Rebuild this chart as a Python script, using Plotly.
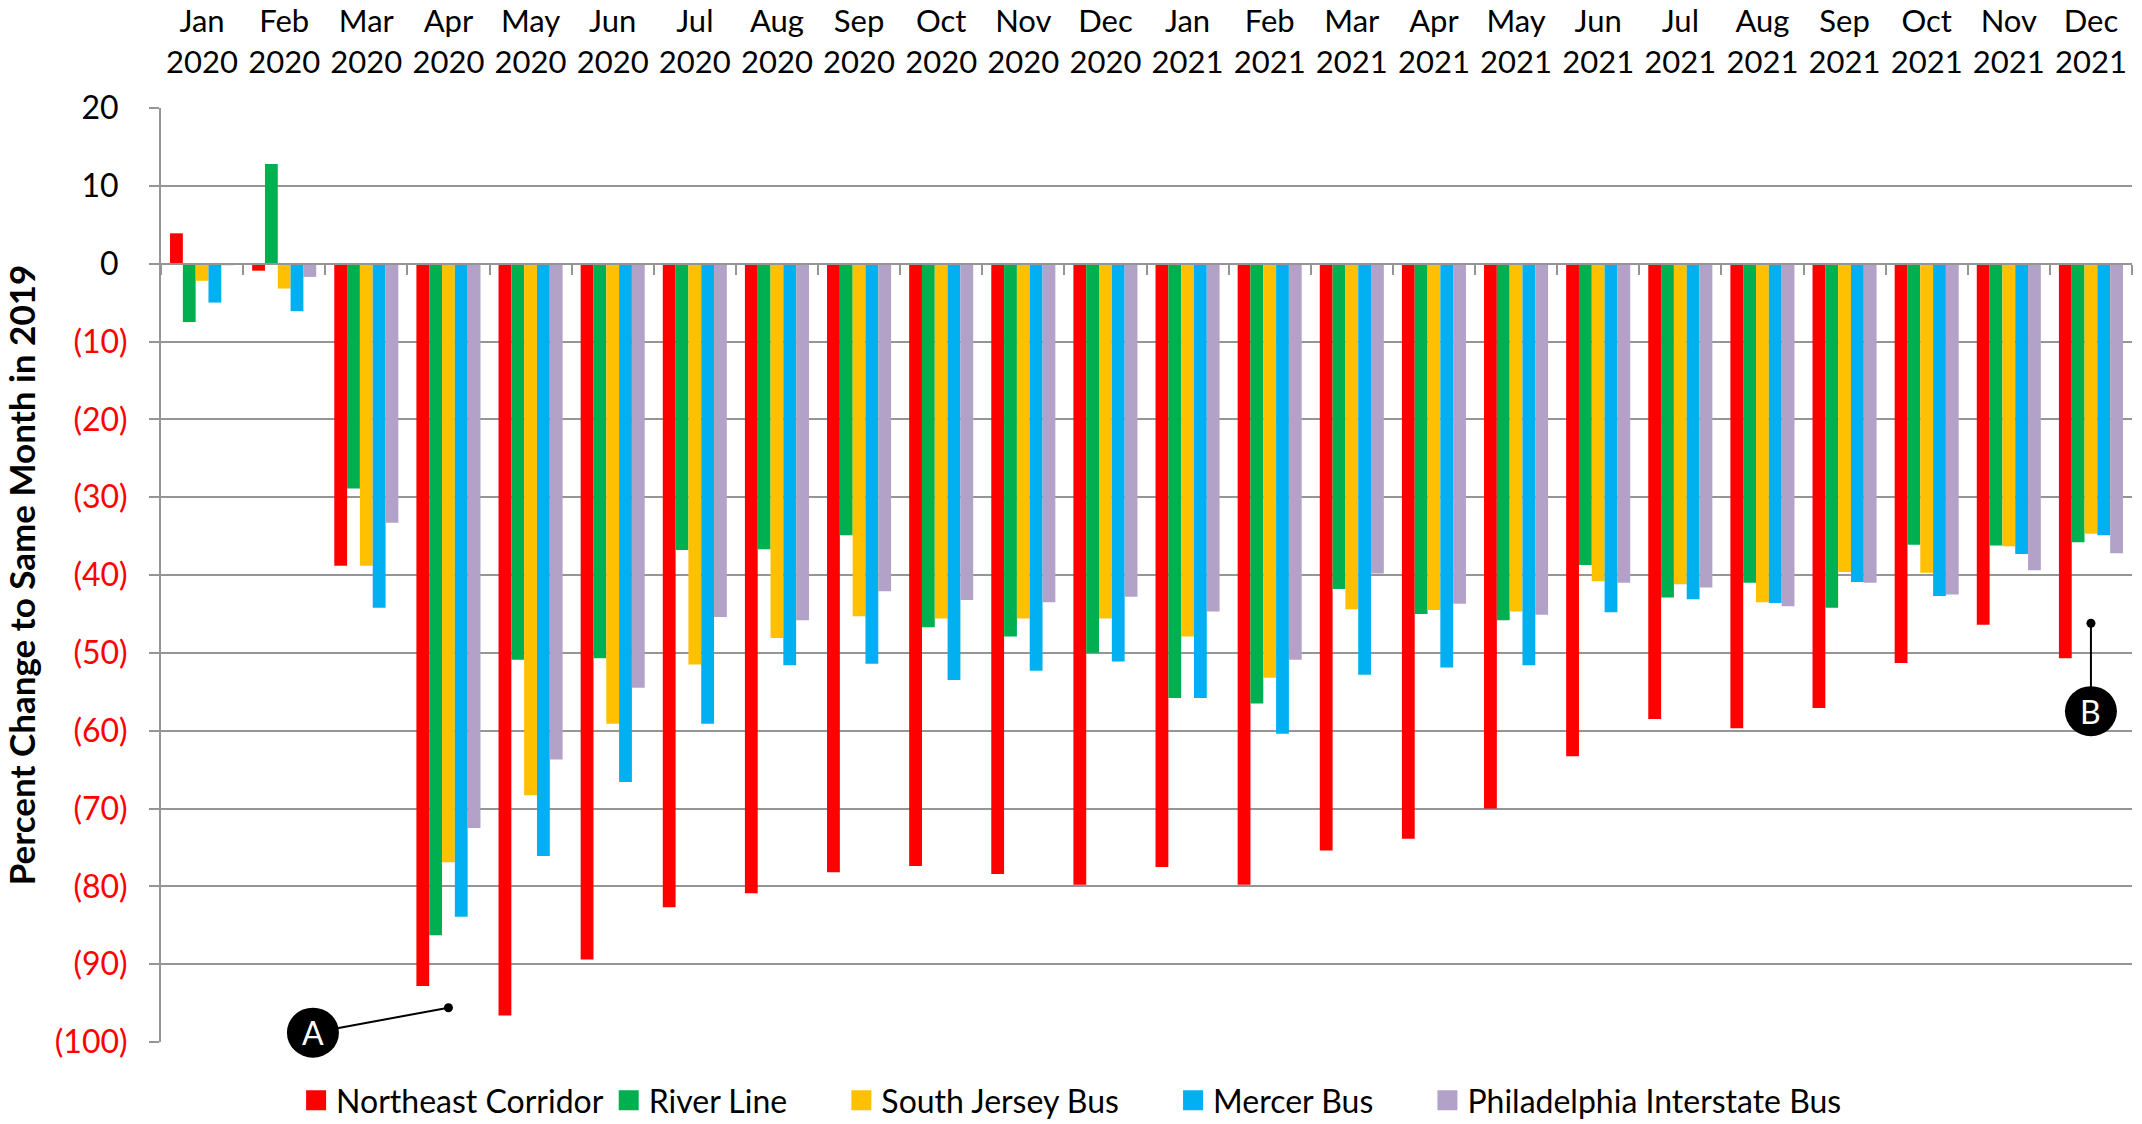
import plotly.graph_objects as go

# ---------------- data ----------------
categories = [
    "Jan<br>2020", "Feb<br>2020", "Mar<br>2020", "Apr<br>2020", "May<br>2020", "Jun<br>2020",
    "Jul<br>2020", "Aug<br>2020", "Sep<br>2020", "Oct<br>2020", "Nov<br>2020", "Dec<br>2020",
    "Jan<br>2021", "Feb<br>2021", "Mar<br>2021", "Apr<br>2021", "May<br>2021", "Jun<br>2021",
    "Jul<br>2021", "Aug<br>2021", "Sep<br>2021", "Oct<br>2021", "Nov<br>2021", "Dec<br>2021",
]

northeast_corridor = [3.9, -0.9, -38.8, -92.8, -96.6, -89.4, -82.7, -80.9, -78.2, -77.4, -78.4, -79.8,
                      -77.5, -79.8, -75.4, -73.9, -70.0, -63.3, -58.5, -59.7, -57.1, -51.3, -46.4, -50.7]
river_line = [-7.5, 12.8, -28.9, -86.3, -50.9, -50.7, -36.8, -36.7, -34.9, -46.7, -47.9, -50.0,
              -55.8, -56.5, -41.8, -45.0, -45.8, -38.7, -42.9, -41.0, -44.2, -36.1, -36.2, -35.8]
south_jersey_bus = [-2.2, -3.2, -38.8, -76.9, -68.3, -59.1, -51.5, -48.1, -45.3, -45.6, -45.6, -45.6,
                    -47.9, -53.2, -44.4, -44.5, -44.7, -40.8, -41.2, -43.5, -39.6, -39.7, -36.3, -34.7]
mercer_bus = [-5.0, -6.1, -44.2, -83.9, -76.1, -66.6, -59.1, -51.6, -51.4, -53.5, -52.3, -51.1,
              -55.8, -60.4, -52.8, -51.9, -51.6, -44.8, -43.1, -43.6, -40.9, -42.7, -37.3, -34.9]
philadelphia_interstate_bus = [-0.2, -1.7, -33.3, -72.5, -63.7, -54.5, -45.4, -45.8, -42.1, -43.2, -43.5, -42.8,
                               -44.7, -50.9, -39.8, -43.7, -45.1, -41.0, -41.6, -44.0, -41.0, -42.5, -39.4, -37.2]

series_names = ["Northeast Corridor", "River Line", "South Jersey Bus", "Mercer Bus",
                "Philadelphia Interstate Bus"]
series_values = [northeast_corridor, river_line, south_jersey_bus, mercer_bus, philadelphia_interstate_bus]
series_colors = ["#FF0000", "#00B050", "#FFC000", "#00B0F0", "#B3A2C7"]

y_pos_tickvals = [20, 10, 0]
y_pos_ticklabels = ["20", "10", "0"]
y_neg_tickvals = [-10, -20, -30, -40, -50, -60, -70, -80, -90, -100]
y_neg_ticklabels = ["(10)", "(20)", "(30)", "(40)", "(50)", "(60)", "(70)", "(80)", "(90)", "(100)"]

# callouts: (label, circle x, circle y, point x, point y) in category-index / data coordinates
callouts = [
    ("A", 1.35, -98.8, 3.0, -95.6),
    ("B", 23.0, -57.5, 23.0, -46.2),
]

# ---------------- figure ----------------
FONT = "Lato"
GRID = "#959595"
RED = "#FF0000"

ymin, ymax = -100, 20
zero_pos = (0 - ymin) / (ymax - ymin)

fig = go.Figure()
for name, vals, col in zip(series_names, series_values, series_colors):
    fig.add_trace(go.Bar(x=categories, y=vals, name=name, marker_color=col,
                         marker_line_width=0, xaxis="x", yaxis="y", showlegend=False))

# legend entries (square swatches); trailing no-break spaces widen the gaps like the original
legend_pad = ["", "\u00a0" * 6, "\u00a0" * 6, "\u00a0" * 6, ""]
for name, col, pad in zip(series_names, series_colors, legend_pad):
    fig.add_trace(go.Scatter(x=[None], y=[None], name=name + pad, mode="markers",
                             marker=dict(symbol="square", size=16, color=col,
                                         line=dict(color=col, width=4)),
                             xaxis="x", yaxis="y", hoverinfo="skip"))

# invisible trace carrying the zero-line tick axis and the positive-label axis
fig.add_trace(go.Scatter(x=categories, y=[None] * len(categories), xaxis="x2", yaxis="y2",
                         showlegend=False, hoverinfo="skip", mode="markers"))

shapes = []
annotations = []
for lab, cx, cy, px, py in callouts:
    shapes.append(dict(type="line", xref="x", yref="y", x0=cx, y0=cy, x1=px, y1=py,
                       line=dict(color="black", width=2), layer="above"))
    shapes.append(dict(type="circle", xref="x", yref="paper", xsizemode="pixel", ysizemode="pixel",
                       xanchor=px, yanchor=(py - ymin) / (ymax - ymin), x0=-4.5, x1=4.5, y0=-4.5, y1=4.5,
                       fillcolor="black", line=dict(color="black", width=0), layer="above"))
    shapes.append(dict(type="circle", xref="x", yref="paper", xsizemode="pixel", ysizemode="pixel",
                       xanchor=cx, yanchor=(cy - ymin) / (ymax - ymin), x0=-26, x1=26, y0=-25, y1=25,
                       fillcolor="black", line=dict(color="black", width=0), layer="above"))
    annotations.append(dict(x=cx, y=cy, xref="x", yref="y", text=lab, showarrow=False,
                            font=dict(family=FONT, size=32, color="white"),
                            xanchor="center", yanchor="middle"))

common_y = dict(range=[ymin, ymax], showgrid=True, gridcolor=GRID, gridwidth=2, zeroline=False,
                showline=True, linecolor=GRID, linewidth=2,
                ticks="outside", ticklen=10, tickwidth=2, tickcolor=GRID, automargin=False)

fig.update_layout(
    width=2142, height=1124,
    paper_bgcolor="white", plot_bgcolor="white",
    font=dict(family=FONT, size=30, color="black"),
    margin=dict(l=161, r=10, t=108, b=82, autoexpand=False),
    barmode="group", bargap=0.22, bargroupgap=0.0,
    showlegend=True,
    legend=dict(orientation="h", x=0.462, xanchor="center", yref="container", y=0.021,
                yanchor="middle", font=dict(family=FONT, size=32, color="black"), itemwidth=30,
                traceorder="normal", bgcolor="rgba(0,0,0,0)"),
    xaxis=dict(type="category", categoryorder="array", categoryarray=categories,
               range=[-0.5, len(categories) - 0.5], side="top", showgrid=False,
               showline=False, ticks="", tickfont=dict(family=FONT, size=31, color="black"),
               ticklabelstandoff=28, automargin=False),
    xaxis2=dict(type="category", categoryorder="array", categoryarray=categories,
                overlaying="x", matches="x", anchor="free", position=zero_pos, side="bottom",
                showgrid=False, showline=True, linecolor=GRID, linewidth=2,
                ticks="outside", ticklen=10, tickwidth=2, tickcolor=GRID, tickson="boundaries",
                showticklabels=False, automargin=False),
    yaxis=dict(**common_y, tickvals=y_neg_tickvals, ticktext=y_neg_ticklabels,
               ticklabelstandoff=15,
               tickfont=dict(family=FONT, size=32, color=RED),
               title=dict(text="<b>Percent Change to Same Month in 2019</b>",
                          font=dict(family=FONT, size=35, color="black"), standoff=11)),
    yaxis2=dict(**common_y, overlaying="y", side="left", anchor="x",
                tickvals=y_pos_tickvals, ticktext=y_pos_ticklabels,
                ticklabelstandoff=24,
                tickfont=dict(family=FONT, size=32, color="black")),
    shapes=shapes,
    annotations=annotations,
)

fig.write_html("out.html", config={"displayModeBar": False},
               post_script="document.body.style.margin='0';")
